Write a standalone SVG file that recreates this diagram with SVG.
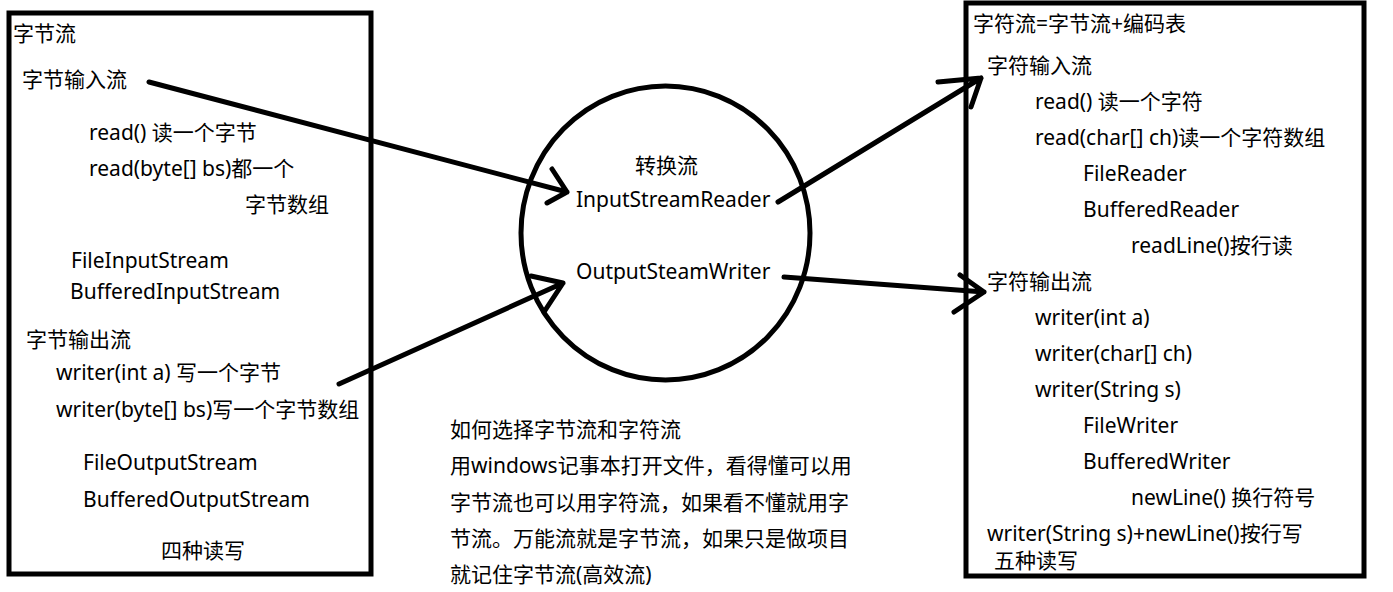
<svg xmlns="http://www.w3.org/2000/svg" width="1393" height="592" viewBox="0 0 1393 592">
<style>
text { font-family: "Noto Sans", "Noto Sans CJK SC", sans-serif; font-size: 21px; fill: #000; }
.box { fill: none; stroke: #000; stroke-width: 5; }
.conn { fill: none; stroke: #000; stroke-width: 5; stroke-linecap: round; stroke-linejoin: round; }
</style>
<rect width="1393" height="592" fill="#fff"/>
<g id="byte-stream">
<rect class="box" x="9" y="13" width="362" height="561"/>
<text x="13" y="41">字节流</text>
<text x="22" y="87">字节输入流</text>
<text x="89" y="140">read() 读一个字节</text>
<text x="89" y="176">read(byte[] bs)都一个</text>
<text x="245" y="212">字节数组</text>
<text x="71" y="268">FileInputStream</text>
<text x="70" y="299">BufferedInputStream</text>
<text x="26" y="347">字节输出流</text>
<text x="56" y="380">writer(int a) 写一个字节</text>
<text x="56" y="417">writer(byte[] bs)写一个字节数组</text>
<text x="83" y="470">FileOutputStream</text>
<text x="83" y="507">BufferedOutputStream</text>
<text x="161" y="558">四种读写</text>
</g>
<g id="conversion-stream">
<ellipse class="box" cx="665.5" cy="233" rx="144.5" ry="147"/>
<text x="635" y="173">转换流</text>
<text x="576" y="207">InputStreamReader</text>
<text x="576" y="279">OutputSteamWriter</text>
</g>
<g id="char-stream">
<rect class="box" x="966" y="3" width="398" height="573"/>
<text x="973" y="31">字符流=字节流+编码表</text>
<text x="987" y="73">字符输入流</text>
<text x="1035" y="109">read() 读一个字符</text>
<text x="1035" y="145">read(char[] ch)读一个字符数组</text>
<text x="1083" y="181">FileReader</text>
<text x="1083" y="217">BufferedReader</text>
<text x="1131" y="253">readLine()按行读</text>
<text x="987" y="289">字符输出流</text>
<text x="1035" y="325">writer(int a)</text>
<text x="1035" y="361">writer(char[] ch)</text>
<text x="1035" y="397">writer(String s)</text>
<text x="1083" y="433">FileWriter</text>
<text x="1083" y="469">BufferedWriter</text>
<text x="1131" y="505">newLine() 换行符号</text>
<text x="987" y="541">writer(String s)+newLine()按行写</text>
<text x="994" y="568">五种读写</text>
</g>
<g id="note">
<text x="450" y="437">如何选择字节流和字符流</text>
<text x="450" y="473">用windows记事本打开文件，看得懂可以用</text>
<text x="450" y="510">字节流也可以用字符流，如果看不懂就用字</text>
<text x="450" y="546">节流。万能流就是字节流，如果只是做项目</text>
<text x="450" y="582">就记住字节流(高效流)</text>
</g>
<g id="connectors">
<path class="conn" d="M149 82 L567 192 M552 169 L567 192 L547 203"/>
<path class="conn" d="M339 384 L563 283 M531 276 L563 283 L544 312"/>
<path class="conn" d="M778 202 L981 78 M938 82 L981 78 L971 107"/>
<path class="conn" d="M784 277 L984 292 M960 275 L984 292 L954 312"/>
</g>
</svg>
